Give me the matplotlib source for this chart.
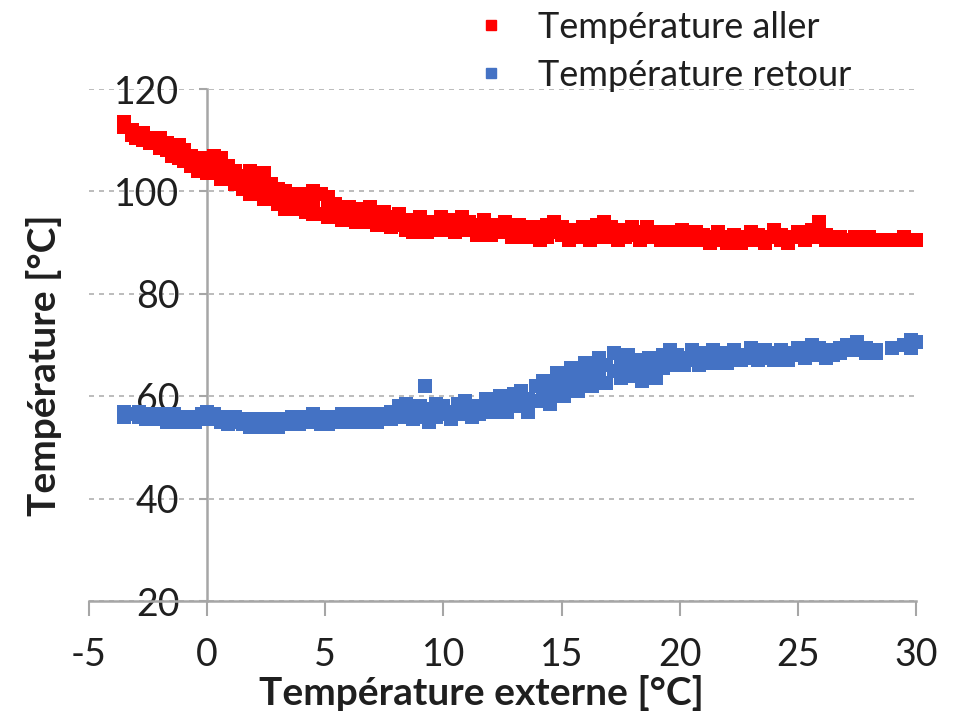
import matplotlib
matplotlib.use('Agg')
import matplotlib.pyplot as plt
from matplotlib.lines import Line2D

# ---- data ----
series_names = ["Température aller", "Température retour"]
x_label = "Température externe [°C]"
y_label = "Température [°C]"
x_ticks = [-5, 0, 5, 10, 15, 20, 25, 30]
y_ticks = [20, 40, 60, 80, 100, 120]

red_x = [-3.5, -3.2, -3.0, -2.7, -2.4, -2.0, -1.7, -1.5, -1.2, -1.0, -0.7, -0.4, -0.2,
         0.0, 0.3, 0.6, 0.9, 1.2, 1.5, 1.8, 2.1, 2.4, 2.7, 3.0, 3.3, 3.6, 3.9, 4.2,
         4.5, 4.8, 5.1, 5.4, 5.7, 6.0, 6.3, 6.6, 6.9, 7.2, 7.5, 7.8, 8.1, 8.4, 8.7,
         9.0, 9.3, 9.6, 9.9, 10.2, 10.5, 10.8, 11.1, 11.4, 11.7, 12.0, 12.3, 12.6,
         12.9, 13.2, 13.5, 13.8, 14.1, 14.4, 14.7, 15.0, 15.3, 15.6, 15.9, 16.2,
         16.5, 16.8, 17.1, 17.4, 17.7, 18.0, 18.3, 18.6, 18.9, 19.2, 19.5, 19.8,
         20.1, 20.4, 20.7, 21.0, 21.3, 21.6, 22.0, 22.3, 22.6, 23.0, 23.3, 23.6,
         24.0, 24.3, 24.6, 25.0, 25.3, 25.6, 25.9, 26.2, 26.5, 26.8, 27.1, 27.4,
         27.7, 28.0, 28.5, 29.0, 29.5, 30.0]
red_y = [(113.5, 112.5), (112, 111), (111.5, 110.5), (111.5, 110), (110.5, 109.5),
         (110.5, 108.5), (109.5, 108), (108.5, 107), (109, 106.5), (108, 106),
         (107, 105), (106, 104), (106.5, 104.5), (105.5, 103.5), (107, 104.5),
         (106.5, 104, 102.5), (105, 102.5), (104, 101.5), (103, 100.5),
         (104, 101, 99.5), (102.5, 99.5), (103.5, 100, 98.5), (101.5, 98.5),
         (100.5, 97.5), (100, 98, 96.5), (99, 96.5), (99.5, 97), (98.5, 96),
         (100, 97.5, 95.5), (99.5, 95.5), (99, 96.5, 95), (97.5, 95), (96.5, 94.5),
         (97, 95), (96.5, 94), (95.5, 94.5), (97, 94), (95.5, 93.5), (96, 94),
         (95, 93), (95.5, 93.5), (94.5, 92.5), (94, 92), (95, 93), (93.5, 92),
         (94, 92.5), (95, 93), (94.5, 92.5), (94, 92), (95, 93), (94, 92.5),
         (93.5, 91.5), (94.5, 92), (93, 91.5), (93.5, 92), (94, 92.5), (93, 91),
         (93.5, 91.5), (92.5, 91), (93, 91.5), (92.5, 90.5), (93.5, 91), (94, 92),
         (93, 91.5), (92, 90.5), (92.5, 91), (93, 91.5), (92, 90.5), (93.5, 91), (94, 92),
         (93, 91), (92, 90.5), (92.5, 91), (93, 91.5), (92, 90.5), (93, 91), (92, 91),
         (91.5, 90.5), (92, 91), (91.5, 90.5), (92.5, 91), (91.5, 90.5), (92, 91),
         (91.5, 90.5), (91, 90), (92, 90.5), (91, 90), (91.5, 90.5), (91, 90), (92, 90.5),
         (91.5,), (91, 90), (92.5, 91), (91.5, 90.5), (91, 90), (92, 91), (91.5, 90.5),
         (92.5, 91), (94, 92), (91.5, 90.5), (91,), (91, 90.5), (90.5,), (91, 90.5),
         (90.5,), (91, 90.5), (90.5,), (90.5,), (90.5, 91), (90.5,)]

blue_x = [-3.5, -3.2, -2.9, -2.6, -2.3, -2.0, -1.7, -1.4, -1.1, -0.8, -0.5, -0.2,
          0.0, 0.3, 0.6, 0.9, 1.2, 1.5, 1.8, 2.1, 2.4, 2.7, 3.0, 3.3, 3.6, 3.9, 4.2,
          4.5, 4.8, 5.1, 5.4, 5.7, 6.0, 6.3, 6.6, 6.9, 7.2, 7.5, 7.8, 8.1, 8.4, 8.7,
          9.0, 9.2, 9.4, 9.7, 10.0, 10.3, 10.6, 10.9, 11.2, 11.5, 11.8, 12.1, 12.4,
          12.7, 13.0, 13.3, 13.6, 13.9, 14.2, 14.5, 14.8, 15.1, 15.4, 15.7, 16.0,
          16.3, 16.6, 16.9, 17.2, 17.5, 17.8, 18.1, 18.4, 18.7, 19.0, 19.3, 19.6,
          19.9, 20.2, 20.5, 20.8, 21.1, 21.4, 21.7, 22.0, 22.3, 22.6, 23.0, 23.3,
          23.6, 24.0, 24.3, 24.6, 25.0, 25.3, 25.6, 25.9, 26.2, 26.5, 26.8, 27.1,
          27.5, 27.9, 28.3, 29.0, 29.5, 29.8, 30.0]
blue_y = [(57, 56), (56.5,), (57, 56), (56.5, 55.5), (56,), (56.5, 55.5), (56, 55),
          (56.5,), (56, 55), (55.5,), (56, 55), (56.5, 55.5), (57, 56), (56.5, 55.5),
          (56, 55), (55.5, 54.5), (56, 55), (55.5, 54.5), (55, 54), (55.5, 54.5),
          (55, 54), (55.5, 54.5), (55, 54), (55.5, 54.5), (56, 55), (55.5, 54.5),
          (56, 55), (56.5, 55), (56, 54.5), (55.5, 54.5), (56, 55), (56.5, 55.5),
          (56, 55), (56.5, 55), (56, 55.5), (56.5, 55), (56, 55), (56.5, 55.5),
          (57, 55.5), (58, 56), (58.5, 56.5), (57.5, 55.5), (58, 56), (62,),
          (57.5, 55), (58.5, 56), (58, 56.5), (57, 55.5), (58.5, 56.5), (59, 57),
          (58, 56), (57.5, 56.5), (59.5, 57), (58.5, 57), (60, 57.5), (59, 57),
          (60.5, 58), (61, 58.5), (59.5, 57), (62, 59), (63, 60), (62, 58.5),
          (64.5, 61), (63, 60), (65.5, 62), (64, 61), (66.5, 63), (65, 62), (67.5, 64),
          (66, 62.5), (68.5, 65), (67, 63.5), (68, 65.5), (67, 64), (66, 63),
          (67.5, 64.5), (66, 63.5), (68, 65.5), (69, 66.5), (68, 66), (67.5, 66),
          (69, 67), (68, 66), (68.5, 67), (69, 66.5), (68, 67), (68.5, 66.5),
          (69, 67.5), (68, 67), (69.5, 67.5), (68.5, 67), (69, 67.5), (68.5, 67),
          (69, 67.5), (68.5, 67), (69.5, 68), (69, 67.5), (70, 68), (69.5, 68.5),
          (68.5, 67.5), (69, 68), (69.5, 68.5), (70, 69), (70.5, 69), (69.5, 68.5),
          (69, 68.5), (69.5,), (70,), (71, 69.5), (70.5,)]

red_color = "#FF0000"
blue_color = "#4472C4"
axis_color = "#A6A6A6"
text_color = "#1F1F1F"
FONT = ["Lato", "DejaVu Sans"]

plt.rcParams['font.family'] = FONT


def expand(xs, ys):
    px, py = [], []
    for xv, grp in zip(xs, ys):
        for yv in grp:
            px.append(xv)
            py.append(yv)
    return px, py


rx, ry = expand(red_x, red_y)
bx, by = expand(blue_x, blue_y)

fig = plt.figure(figsize=(9.6, 7.13), dpi=100)
ax = fig.add_axes([89 / 960, 1 - 601 / 713, (916 - 89) / 960, (601 - 89) / 713])

ax.scatter(rx, ry, marker='s', s=110, color=red_color, linewidths=0, zorder=3, clip_on=False)
ax.scatter(bx, by, marker='s', s=110, color=blue_color, linewidths=0, zorder=3, clip_on=False)

ax.set_xlim(-5, 30)
ax.set_ylim(20, 120)
ax.set_xticks(x_ticks)
ax.set_yticks(y_ticks)
ax.set_xticklabels([str(v) for v in x_ticks])
ax.set_yticklabels([str(v) for v in y_ticks])

ax.grid(axis='y', linestyle=(0, (3, 3)), color='#B0B0B0', linewidth=1.2, zorder=0)
ax.set_axisbelow(True)

for s in ['top', 'right']:
    ax.spines[s].set_visible(False)
ax.spines['left'].set_position(('data', 0))
ax.spines['left'].set_color(axis_color)
ax.spines['left'].set_linewidth(1.8)
ax.spines['left'].set_zorder(1)
ax.spines['bottom'].set_color(axis_color)
ax.spines['bottom'].set_linewidth(1.8)

ax.tick_params(axis='x', direction='out', length=11, width=1.5, color=axis_color,
               labelsize=27, labelcolor=text_color, pad=15)
ax.tick_params(axis='y', direction='out', length=6, width=1.5, color=axis_color,
               labelsize=27, labelcolor=text_color, pad=14)

ax.set_xlabel(x_label, fontsize=28, fontweight='bold', color=text_color,
              va='baseline')
ax.set_ylabel(y_label, fontsize=28, fontweight='bold', color=text_color)
ax.xaxis.set_label_coords(0.474, -0.203)
ax.yaxis.set_label_coords(-0.033, 0.461)

handles = [Line2D([], [], marker='s', linestyle='none', color=red_color, markersize=7),
           Line2D([], [], marker='s', linestyle='none', color=blue_color, markersize=7)]
fig.legend(handles, series_names, loc='upper left', bbox_to_anchor=(0.455, 1.03),
           frameon=False, fontsize=26, handletextpad=0.7, labelspacing=0.4,
           handlelength=1.2, labelcolor=text_color)

fig.savefig('out.png', dpi=100, facecolor='white')
